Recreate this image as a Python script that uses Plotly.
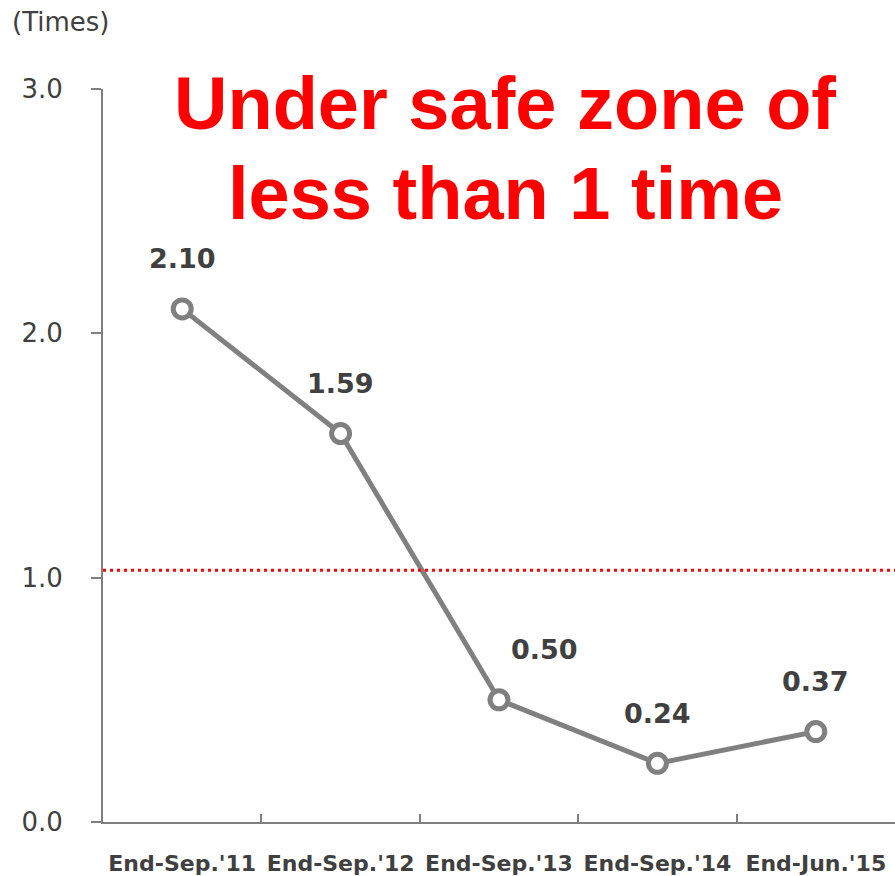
import plotly.graph_objects as go

# Debt-to-equity style ratio by period
periods = ["End-Sep.'11", "End-Sep.'12", "End-Sep.'13", "End-Sep.'14", "End-Jun.'15"]
ratios = [2.10, 1.59, 0.50, 0.24, 0.37]
label_texts = ["2.10", "1.59", "0.50", "0.24", "0.37"]
y_ticks = [0, 1, 2, 3]
y_tick_labels = ["0.0", "1.0", "2.0", "3.0"]
safe_level = 1.03

GREY = "#808080"
DARK = "#404040"

fig = go.Figure()

fig.add_trace(go.Scatter(
    x=periods,
    y=ratios,
    mode="lines+markers",
    line=dict(color=GREY, width=5),
    marker=dict(symbol="circle", size=18, color="white",
                line=dict(color=GREY, width=5)),
    hoverinfo="skip",
    showlegend=False,
))

# value labels above each point
label_xshift = [0, 0, 45, 0, 0]
for p, v, t, dx in zip(periods, ratios, label_texts, label_xshift):
    fig.add_annotation(
        x=p, y=v, text=t, showarrow=False,
        xshift=dx, yshift=50,
        font=dict(family="DejaVu Sans", size=27, color=DARK, weight="bold"),
    )

# safe-zone reference line
fig.add_shape(
    type="line", xref="paper", yref="y",
    x0=0, x1=1, y0=safe_level, y1=safe_level,
    line=dict(color="#ff0000", width=3, dash="3px,4px"),
)

# headline
fig.add_annotation(
    xref="paper", yref="y", x=0.5076, y=2.939,
    text="<b>Under safe zone of</b>", showarrow=False,
    xanchor="center", yanchor="middle",
    font=dict(family="Liberation Sans, Arial", size=74, color="#ff0000"),
)
fig.add_annotation(
    xref="paper", yref="y", x=0.5076, y=2.571,
    text="<b>less than 1 time</b>", showarrow=False,
    xanchor="center", yanchor="middle",
    font=dict(family="Liberation Sans, Arial", size=74, color="#ff0000"),
)

# unit label
fig.add_annotation(
    xref="paper", yref="paper", x=-0.1174, y=1.0914,
    text="(Times)", showarrow=False,
    xanchor="left", yanchor="middle",
    font=dict(family="DejaVu Sans", size=26, color=DARK),
)

fig.update_layout(
    width=895, height=876,
    margin=dict(l=103, r=0, t=89, b=54),
    paper_bgcolor="white", plot_bgcolor="white",
    showlegend=False,
)

fig.update_xaxes(
    type="category",
    range=[-0.5, 4.5],
    showline=True, linecolor=GREY, linewidth=2,
    ticks="inside", tickson="boundaries", ticklen=8, tickwidth=2, tickcolor=GREY,
    showgrid=False, zeroline=False,
    ticklabelstandoff=21,
    tickfont=dict(family="DejaVu Sans", size=22, color=DARK, weight="bold"),
)

fig.update_yaxes(
    range=[0, 3],
    tickvals=y_ticks, ticktext=y_tick_labels,
    showline=True, linecolor=GREY, linewidth=2,
    ticks="outside", ticklen=10, tickwidth=2, tickcolor=GREY,
    showgrid=False, zeroline=False,
    ticklabelstandoff=23,
    tickfont=dict(family="DejaVu Sans", size=26, color=DARK),
)

fig.write_html("out.html")
